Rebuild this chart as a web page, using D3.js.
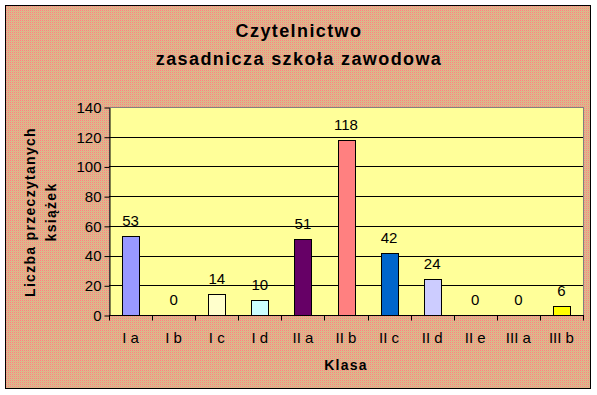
<!DOCTYPE html>
<html>
<head>
<meta charset="utf-8">
<script src="https://cdnjs.cloudflare.com/ajax/libs/d3/7.8.5/d3.min.js"></script>
<style>
  body { margin: 0; background: #fff; }
  svg { display: block; font-family: "Liberation Sans", Arial, sans-serif; }
</style>
</head>
<body>
<svg class="svg" width="597" height="395"></svg>
<script>
let classes = ['I a','I b','I c','I d','II a','II b','II c','II d','II e','III a','III b'];
let books = [53, 0, 14, 10, 51, 118, 42, 24, 0, 0, 6];
let barColors = ['#9999ff','#ff8080','#ffffcc','#ccffff','#660066','#ff8080','#0066cc','#ccccff','#ff8080','#ff8080','#ffff00'];
let yTicks = [0, 20, 40, 60, 80, 100, 120, 140];
let titleLines = ['Czytelnictwo', 'zasadnicza szkoła zawodowa'];
let yTitleLines = ['Liczba przeczytanych', 'książek'];
let xTitle = 'Klasa';

let svg = d3.select('.svg');
let plotLeft = 109, plotRight = 583, plotTop = 107, plotBottom = 315;

// tło - różowa faktura
let defs = svg.append('defs');
let pat = defs.append('pattern')
    .attr('id', 'tex')
    .attr('patternUnits', 'userSpaceOnUse')
    .attr('width', 2).attr('height', 2);
pat.append('rect').attr('width', 2).attr('height', 2).attr('fill', '#dcba8c');
pat.append('rect').attr('width', 1).attr('height', 1).attr('fill', '#ff8282');
pat.append('rect').attr('x', 1).attr('y', 1).attr('width', 1).attr('height', 1).attr('fill', '#d8b68a');

svg.append('rect')
    .attr('x', 5.5).attr('y', 5.5)
    .attr('width', 585).attr('height', 383)
    .attr('fill', 'url(#tex)')
    .attr('stroke', '#000')
    .attr('stroke-width', 1);

let x = d3.scaleBand().domain(classes).range([plotLeft, plotRight]);
let y = d3.scaleLinear().domain([0, 140]).range([plotBottom, plotTop]);

svg.append('rect')
    .attr('x', plotLeft + 0.5).attr('y', plotTop + 0.5)
    .attr('width', plotRight - plotLeft).attr('height', plotBottom - plotTop)
    .attr('fill', '#ffff99')
    .attr('stroke', '#808080');

// linie siatki
svg.append('g').selectAll('line')
    .data(yTicks.filter(d => d > 0 && d < 140))
    .enter().append('line')
    .attr('x1', plotLeft).attr('x2', plotRight)
    .attr('y1', d => Math.round(y(d)) + 0.5)
    .attr('y2', d => Math.round(y(d)) + 0.5)
    .attr('stroke', '#000');

// oś Y
let yAxis = svg.append('g')
    .attr('transform', 'translate(' + (plotLeft + 0.5) + ',0.5)')
    .call(d3.axisLeft(y).tickValues(yTicks).tickSize(5).tickPadding(3).tickSizeOuter(0));
yAxis.select('.domain').attr('stroke', '#000');
yAxis.selectAll('text').attr('font-size', '15px').attr('fill', '#000')
    .attr('font-family', '"Liberation Sans", Arial, sans-serif');

// oś X
let xAxis = svg.append('g')
    .attr('transform', 'translate(0,' + (plotBottom + 0.5) + ')');
xAxis.append('line')
    .attr('x1', plotLeft).attr('x2', plotRight + 1)
    .attr('stroke', '#000');
xAxis.selectAll('.tk')
    .data(d3.range(classes.length + 1))
    .enter().append('line')
    .attr('class', 'tk')
    .attr('x1', d => Math.round(plotLeft + d * x.step()) + 0.5)
    .attr('x2', d => Math.round(plotLeft + d * x.step()) + 0.5)
    .attr('y1', 0).attr('y2', 5)
    .attr('stroke', '#000');
xAxis.selectAll('.lbl')
    .data(classes)
    .enter().append('text')
    .attr('class', 'lbl')
    .attr('x', d => x(d) + x.bandwidth() / 2)
    .attr('y', 27)
    .attr('text-anchor', 'middle')
    .attr('font-size', '15px')
    .text(d => d);

// słupki
let barW = 17;
let bars = svg.append('g').selectAll('g')
    .data(classes.map((c, i) => ({name: c, num: books[i], color: barColors[i]})))
    .enter().append('g');
bars.filter(d => d.num > 0).append('rect')
    .attr('x', d => Math.round(x(d.name) + x.bandwidth() / 2 - barW / 2) + 0.5)
    .attr('y', d => Math.round(y(d.num)) + 0.5)
    .attr('width', barW)
    .attr('height', d => Math.round(y(0)) - Math.round(y(d.num)))
    .attr('fill', d => d.color)
    .attr('stroke', '#000');
bars.append('text')
    .attr('x', d => x(d.name) + x.bandwidth() / 2)
    .attr('y', d => y(d.num) - 10)
    .attr('text-anchor', 'middle')
    .attr('font-size', '15px')
    .text(d => d.num);

// tytuły
svg.append('g').selectAll('text')
    .data(titleLines)
    .enter().append('text')
    .attr('x', 299)
    .attr('y', (d, i) => 37 + i * 28)
    .attr('text-anchor', 'middle')
    .attr('font-size', '18px')
    .attr('font-weight', 'bold')
    .attr('letter-spacing', '1.4px')
    .text(d => d);

svg.append('g').selectAll('text')
    .data(yTitleLines)
    .enter().append('text')
    .attr('transform', (d, i) => 'translate(' + (35 + i * 21) + ',212) rotate(-90)')
    .attr('text-anchor', 'middle')
    .attr('font-size', '14px')
    .attr('font-weight', 'bold')
    .attr('letter-spacing', '1.3px')
    .text(d => d);

svg.append('text')
    .attr('x', 346).attr('y', 370)
    .attr('text-anchor', 'middle')
    .attr('font-size', '14px')
    .attr('font-weight', 'bold')
    .attr('letter-spacing', '1.2px')
    .text(xTitle);
</script>
</body>
</html>
